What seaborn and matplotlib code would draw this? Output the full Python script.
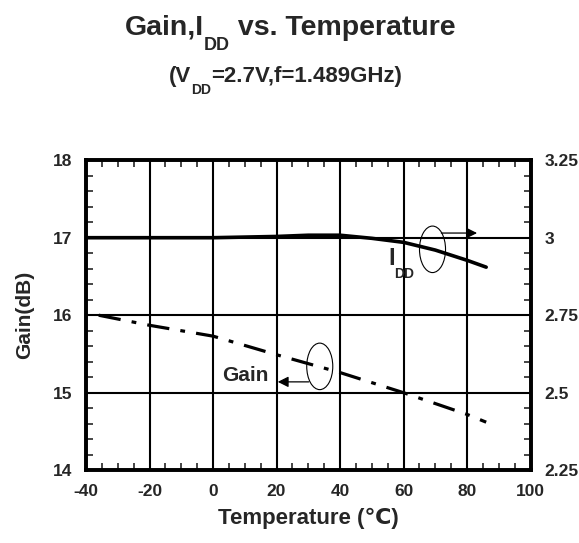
import numpy as np
import pandas as pd
import matplotlib
matplotlib.use("Agg")
import matplotlib.pyplot as plt
import seaborn as sns
from matplotlib.patches import Ellipse
from matplotlib.ticker import MultipleLocator

# data
gain_temp = [-36, -20, 0, 20, 40, 60, 80, 86]
gain_db = [16.0, 15.87, 15.73, 15.49, 15.26, 15.0, 14.72, 14.62]

idd_temp = [-40, -20, 0, 20, 30, 40, 50, 60, 70, 80, 86]
idd_val = [3.0, 3.0, 3.0, 3.004, 3.008, 3.008, 2.998, 2.985, 2.96, 2.927, 2.905]

x_ticks = [-40, -20, 0, 20, 40, 60, 80, 100]
left_ticks = [14, 15, 16, 17, 18]
right_ticks = [2.25, 2.5, 2.75, 3.0, 3.25]
right_labels = ["2.25", "2.5", "2.75", "3", "3.25"]

sns.set_style("white")
plt.rcParams["font.family"] = ["Liberation Sans", "DejaVu Sans"]
plt.rcParams["font.weight"] = "bold"
plt.rcParams["axes.unicode_minus"] = False

W, H = 579, 543
fig = plt.figure(figsize=(W / 100, H / 100), dpi=100)
ax = fig.add_axes([0.1485, 0.134, 0.768, 0.571])
ax2 = ax.twinx()


def sub_text(x_px, y_px, parts, center=True):
    # parts: (text, size, drop in px); x_px, y_px are display coords of the baseline
    rend = fig.canvas.get_renderer()
    items = []
    for s, size, drop in parts:
        t = fig.text(0, 0, s, fontsize=size, fontweight="bold",
                     ha="left", va="baseline")
        w = t.get_window_extent(rend).width
        items.append((t, w, drop))
    total = sum(w for _, w, _ in items)
    x = x_px - total / 2 if center else x_px
    for t, w, drop in items:
        t.set_position((x / W, (y_px - drop) / H))
        x += w


gain_df = pd.DataFrame({"temp": gain_temp, "gain": gain_db})
idd_df = pd.DataFrame({"temp": idd_temp, "idd": idd_val})

sns.lineplot(data=gain_df, x="temp", y="gain", ax=ax, color="black",
             linewidth=2.3)
ax.lines[-1].set_dashes([7, 3.5, 1.5, 3.5])
sns.lineplot(data=idd_df, x="temp", y="idd", ax=ax2, color="black",
             linewidth=2.6)

ax.set_xlim(-40, 100)
ax.set_ylim(14, 18)
ax2.set_ylim(2.25, 3.25)
ax.set_xticks(x_ticks)
ax.set_yticks(left_ticks)
ax2.set_yticks(right_ticks)
ax2.set_yticklabels(right_labels)
ax.xaxis.set_minor_locator(MultipleLocator(5))
ax.yaxis.set_minor_locator(MultipleLocator(0.2))
ax2.yaxis.set_minor_locator(MultipleLocator(0.05))

ax.grid(True, which="major", color="black", linewidth=1.5)
ax.set_axisbelow(True)

for a in (ax, ax2):
    for sp in a.spines.values():
        sp.set_linewidth(2.6)
        sp.set_color("black")
ax.tick_params(axis="both", which="major", direction="in", length=0,
               labelsize=12.5, pad=10)
ax.tick_params(axis="x", which="minor", direction="in", length=5, width=1.2,
               top=True, bottom=True)
ax.tick_params(axis="y", which="minor", direction="in", length=5, width=1.2)
ax2.tick_params(axis="y", which="major", direction="in", length=0,
                labelsize=12.5, pad=10)
ax2.tick_params(axis="y", which="minor", direction="in", length=5, width=1.2)
for lab in ax.get_xticklabels() + ax.get_yticklabels() + ax2.get_yticklabels():
    lab.set_fontweight("bold")

ax.set_xlabel("Temperature (\u2103)", fontsize=16, fontweight="bold", labelpad=6)
ax.set_ylabel("Gain(dB)", fontsize=15, fontweight="bold", labelpad=13)
ax2.set_ylabel("")

# annotations: ellipses with arrows
ax.add_patch(Ellipse((69.1, 16.85), 8.2, 0.6, fill=False, color="black", lw=0.8))
ax.annotate("", xy=(84.0, 17.06), xytext=(71.0, 17.06),
            arrowprops=dict(arrowstyle="-|>", color="black", lw=0.9,
                            mutation_scale=16))

ax.add_patch(Ellipse((33.6, 15.34), 8.2, 0.6, fill=False, color="black", lw=0.8))
ax.annotate("", xy=(19.5, 15.14), xytext=(31.0, 15.14),
            arrowprops=dict(arrowstyle="-|>", color="black", lw=0.9,
                            mutation_scale=16))
ax.text(17.5, 15.22, "Gain", fontsize=15, fontweight="bold",
        ha="right", va="center")

# I_DD label sits just under the curve near 56 degC
lx, ly = ax2.transData.transform((56.0, 2.99))
sub_text(lx - 3, ly - 24, [("I", 17, 0), ("DD", 10, 13)], center=False)
sub_text(290, H - 35, [("Gain,I", 20.5, 0), ("DD", 13, 15),
                       (" vs. Temperature", 20.5, 0)])
sub_text(285, H - 82, [("(V", 16, 0), ("DD", 10, 12),
                       ("=2.7V,f=1.489GHz)", 16, 0)])

fig.savefig("out.png", dpi=100)
